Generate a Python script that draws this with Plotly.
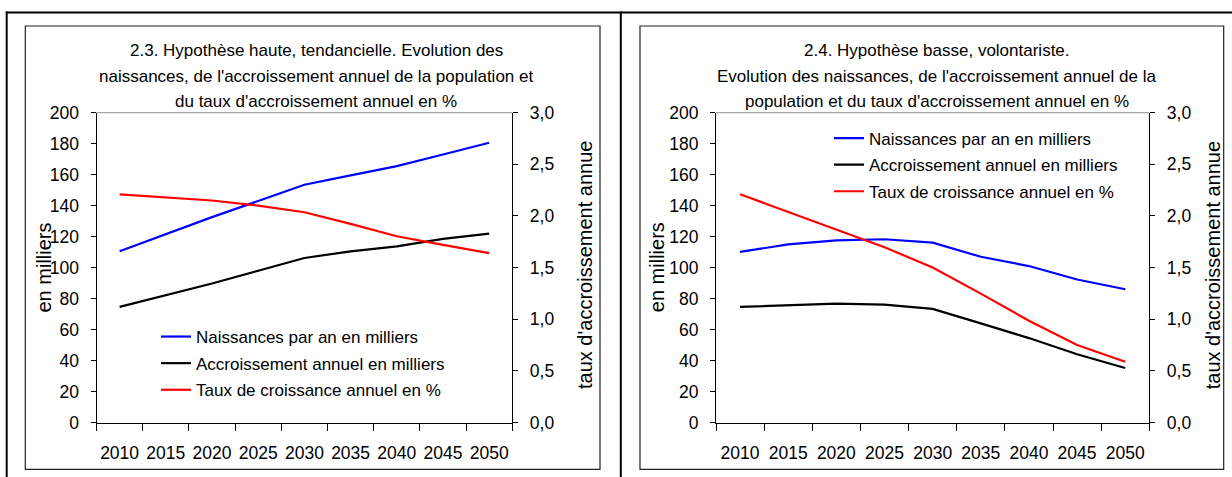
import plotly.graph_objects as go

# ---------------- data ----------------
years = [2010, 2015, 2020, 2025, 2030, 2035, 2040, 2045, 2050]
year_labels = [str(y) for y in years]

# 2.3 Hypothèse haute, tendancielle
naissances_haute = [110.5, 121.5, 132.6, 143.0, 153.5, 159.5, 165.5, 173.0, 180.6]
accroissement_haute = [74.6, 82.0, 89.7, 98.0, 106.2, 110.5, 113.7, 118.5, 121.9]
taux_haute = [2.21, 2.18, 2.15, 2.10, 2.036, 1.924, 1.804, 1.72, 1.64]

# 2.4 Hypothèse basse, volontariste
naissances_basse = [110.1, 115.0, 117.6, 118.3, 116.1, 107.0, 101.0, 92.3, 86.0]
accroissement_basse = [74.6, 75.8, 76.8, 76.1, 73.3, 64.0, 54.5, 44.1, 35.2]
taux_basse = [2.21, 2.04, 1.866, 1.698, 1.50, 1.248, 0.985, 0.75, 0.588]

series_names = ["Naissances par an en milliers",
                "Accroissement annuel en milliers",
                "Taux de croissance annuel en %"]
series_colors = ["#0000FF", "#000000", "#FF0000"]

title_haute = ["2.3. Hypothèse haute, tendancielle. Evolution des",
               "naissances, de l'accroissement annuel de la population et",
               "du taux d'accroissement annuel en %"]
title_basse = ["2.4. Hypothèse basse, volontariste.",
               "Evolution des naissances, de l'accroissement annuel de la",
               "population et du taux d'accroissement annuel en %"]
ytitle_left = "en milliers"
ytitle_right = "taux d'accroissement annue"

left_ticks = list(range(0, 201, 20))
right_ticks = [0, 0.5, 1.0, 1.5, 2.0, 2.5, 3.0]

# ---------------- layout helpers ----------------
W, H = 1232, 477
FONT = "Liberation Sans, Arial, sans-serif"


def px(x):
    return x / W


def py(y):
    return 1 - y / H


bounds = [y - 2.5 for y in years] + [years[-1] + 2.5]
xrange_ = [years[0] - 2.5, years[-1] + 2.5]

panels = [
    dict(xd=[px(96.5), px(512.3)], title=title_haute, tx=316.3,
         frame=(25.3, 600.0), ytl=43.0, ytr=585.0,
         data=(naissances_haute, accroissement_haute, taux_haute),
         leg_x=156.0, leg_y=319.0),
    dict(xd=[px(716.0), px(1149.3)], title=title_basse, tx=936.5,
         frame=(640.0, 1223.7), ytl=656.7, ytr=1213.3,
         data=(naissances_basse, accroissement_basse, taux_basse),
         leg_x=829.0, leg_y=120.5),
]
ydom = [py(422.5), py(112.7)]

fig = go.Figure()
layout = dict(
    width=W, height=H,
    margin=dict(l=0, r=0, t=0, b=0, pad=0, autoexpand=False),
    paper_bgcolor="white", plot_bgcolor="white",
    font=dict(family=FONT, size=17, color="black"),
    separators=", ",
    showlegend=True,
    annotations=[], shapes=[],
)

tickfont = dict(family=FONT, size=17.5, color="black")

for i, p in enumerate(panels):
    xa_main = 1 + 2 * i
    xa_in = 2 + 2 * i
    ya_l = 1 + 4 * i
    ya_r = 2 + 4 * i
    ya_lin = 3 + 4 * i
    ya_rin = 4 + 4 * i

    def xid(n):
        return "x" if n == 1 else f"x{n}"

    def yid(n):
        return "y" if n == 1 else f"y{n}"

    def xkey(n):
        return "xaxis" if n == 1 else f"xaxis{n}"

    def ykey(n):
        return "yaxis" if n == 1 else f"yaxis{n}"

    layout[xkey(xa_main)] = dict(
        domain=p["xd"], anchor=yid(ya_l), range=xrange_, automargin=False,
        tickmode="array", tickvals=years, ticktext=year_labels,
        ticks="", showline=True, linecolor="black", linewidth=1,
        showgrid=False, zeroline=False, tickfont=tickfont,
        ticklabelstandoff=14,
        minor=dict(tickmode="array", tickvals=bounds, ticks="outside",
                   ticklen=7, tickwidth=1, tickcolor="black", showgrid=False),
    )
    layout[xkey(xa_in)] = dict(
        overlaying=xid(xa_main), anchor=yid(ya_l), range=xrange_,
        automargin=False,
        tickmode="array", tickvals=bounds, ticks="inside", ticklen=7,
        tickwidth=1, tickcolor="black", showticklabels=False,
        showline=False, showgrid=False, zeroline=False,
    )
    layout[ykey(ya_l)] = dict(
        domain=ydom, anchor=xid(xa_main), range=[0, 200], automargin=False,
        tickmode="array", tickvals=left_ticks, ticks="outside", ticklen=5,
        tickwidth=1, tickcolor="black", showline=True, linecolor="black",
        linewidth=1, showgrid=False, zeroline=False, tickfont=tickfont,
        ticklabelstandoff=8,
    )
    layout[ykey(ya_lin)] = dict(
        overlaying=yid(ya_l), side="left", anchor=xid(xa_main), range=[0, 200],
        automargin=False,
        tickmode="array", tickvals=left_ticks, ticks="inside", ticklen=5,
        tickwidth=1, tickcolor="black", showticklabels=False,
        showline=False, showgrid=False, zeroline=False,
    )
    layout[ykey(ya_r)] = dict(
        overlaying=yid(ya_l), side="right", anchor=xid(xa_main), range=[0, 3],
        automargin=False,
        tickmode="array", tickvals=right_ticks, tickformat=".1f",
        ticks="outside", ticklen=5, tickwidth=1, tickcolor="black",
        showline=True, linecolor="black", linewidth=1, showgrid=False,
        zeroline=False, tickfont=tickfont, ticklabelstandoff=8,
    )
    layout[ykey(ya_rin)] = dict(
        overlaying=yid(ya_l), side="right", anchor=xid(xa_main), range=[0, 3],
        automargin=False,
        tickmode="array", tickvals=right_ticks, ticks="inside", ticklen=5,
        tickwidth=1, tickcolor="black", showticklabels=False,
        showline=False, showgrid=False, zeroline=False,
    )

    legname = "legend" if i == 0 else "legend2"
    layout[legname] = dict(
        x=px(p["leg_x"]), y=py(p["leg_y"]), xanchor="left", yanchor="top",
        bgcolor="rgba(0,0,0,0)", borderwidth=0,
        font=dict(family=FONT, size=17, color="black"),
        traceorder="grouped", tracegroupgap=1.5,
    )

    vals = p["data"]
    for k in range(3):
        fig.add_trace(go.Scatter(
            x=years, y=vals[k], mode="lines", name=series_names[k],
            line=dict(color=series_colors[k], width=2.2),
            xaxis=xid(xa_main), yaxis=yid(ya_r) if k == 2 else yid(ya_l),
            legend=legname, legendgroup=f"g{i}{k}", hoverinfo="skip",
        ))

    for line_text, yy in zip(p["title"], [50.5, 76.5, 101.0]):
        layout["annotations"].append(dict(
            text=line_text, x=px(p["tx"]), y=py(yy), xref="paper", yref="paper",
            xanchor="center", yanchor="middle", showarrow=False,
            font=dict(family=FONT, size=17, color="black")))
    layout["annotations"].append(dict(
        text=ytitle_left, x=px(p["ytl"]), y=py(267.5), xref="paper", yref="paper",
        xanchor="center", yanchor="middle", showarrow=False, textangle=-90,
        font=dict(family=FONT, size=20, color="black")))
    layout["annotations"].append(dict(
        text=ytitle_right, x=px(p["ytr"]), y=py(265.0), xref="paper", yref="paper",
        xanchor="center", yanchor="middle", showarrow=False, textangle=-90,
        font=dict(family=FONT, size=20, color="black")))

    fx0, fx1 = p["frame"]
    layout["shapes"].append(dict(
        type="rect", xref="paper", yref="paper",
        x0=px(fx0), x1=px(fx1), y0=py(469.3), y1=py(26.0),
        line=dict(color="#222222", width=1.2), fillcolor="rgba(0,0,0,0)"))
    layout["shapes"].append(dict(
        type="line", xref=f"{xid(xa_main)} domain", yref=f"{yid(ya_l)} domain",
        x0=0, x1=1, y0=1, y1=1, line=dict(color="#909090", width=1)))

layout["shapes"].append(dict(type="line", xref="paper", yref="paper",
                             x0=px(5.8), x1=1, y0=py(12.5), y1=py(12.5),
                             line=dict(color="black", width=2)))
layout["shapes"].append(dict(type="line", xref="paper", yref="paper",
                             x0=px(6.7), x1=px(6.7), y0=py(11.5), y1=0,
                             line=dict(color="black", width=2)))
layout["shapes"].append(dict(type="line", xref="paper", yref="paper",
                             x0=px(620.8), x1=px(620.8), y0=py(11.5), y1=0,
                             line=dict(color="black", width=2)))

fig.update_layout(**layout)
fig.write_html(
    "out.html",
    config={"displayModeBar": False},
    post_script="document.body.style.margin='0';document.body.style.overflow='hidden';",
)
